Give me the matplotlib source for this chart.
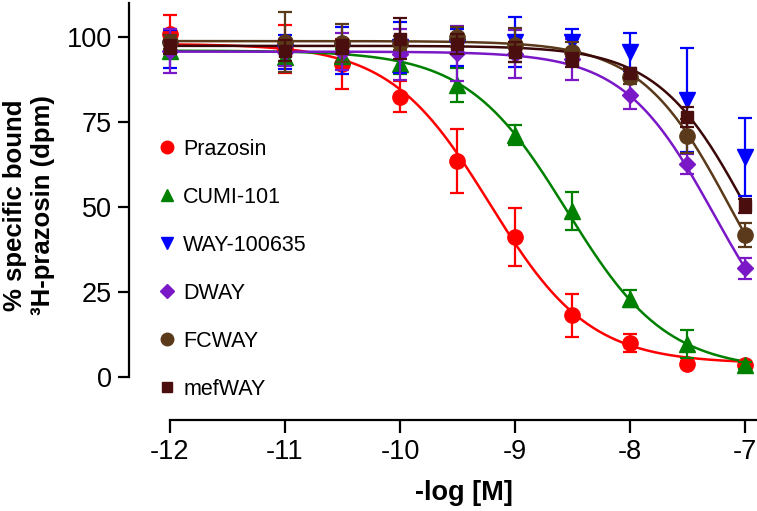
import numpy as np
import matplotlib
matplotlib.use("Agg")
import matplotlib.pyplot as plt
from matplotlib.lines import Line2D

plt.rcParams['font.family'] = ['Liberation Sans', 'DejaVu Sans']

# ---- data ----
log_conc = [-12, -11, -10.5, -10, -9.5, -9, -8.5, -8, -7.5, -7]

prazosin = [101.0, 96.5, 92.0, 82.5, 63.5, 41.2, 18.2, 10.0, 3.8, 3.5]
prazosin_err = [5.5, 7.0, 7.3, 4.5, 9.4, 8.5, 6.3, 2.6, 0.8, 0.8]

cumi = [96.0, 94.0, 94.5, 92.0, 86.0, 71.2, 48.8, 23.0, 9.8, 3.5]
cumi_err = [2.0, 2.0, 2.0, 3.0, 5.0, 3.0, 5.5, 2.5, 4.2, 1.0]

way = [96.5, 95.5, 96.0, 97.0, 97.0, 98.5, 98.5, 95.5, 81.5, 64.7]
way_err = [5.5, 5.0, 7.0, 7.5, 5.5, 7.4, 4.0, 5.6, 15.3, 11.5]

dway = [96.0, 95.5, 95.7, 95.0, 95.2, 95.0, 93.5, 83.0, 62.6, 32.0]
dway_err = [6.5, 4.0, 5.5, 7.5, 8.0, 7.0, 6.0, 4.3, 3.0, 3.0]

fcway = [98.5, 98.5, 98.2, 98.2, 100.0, 97.6, 95.6, 88.2, 71.0, 41.8]
fcway_err = [2.0, 8.8, 5.6, 2.0, 3.0, 5.0, 3.0, 2.0, 5.0, 3.6]

mefway = [97.0, 96.0, 97.0, 99.5, 98.0, 95.6, 93.2, 89.5, 76.5, 50.3]
mefway_err = [2.0, 3.0, 2.0, 6.0, 3.0, 3.0, 2.0, 1.5, 3.0, 2.0]

# fitted sigmoid parameters (top, bottom, logIC50, hill)
fit_prazosin = (98.0, 4.0, -9.22, 1.0)
fit_cumi = (96.0, 2.0, -8.55, 1.0)
fit_dway = (95.7, 0.0, -7.27, 1.1)
fit_fcway = (98.8, 0.0, -7.12, 1.1)
fit_mefway = (97.4, 0.0, -6.97, 1.1)

labels = ["Prazosin", "CUMI-101", "WAY-100635", "DWAY", "FCWAY", "mefWAY"]
x_ticks = [-12, -11, -10, -9, -8, -7]
y_ticks = [0, 25, 50, 75, 100]

# ---- style ----
colors = ["#ff0000", "#008000", "#0000ff", "#7a18c8", "#5a3a1a", "#4a0e0e"]
curve_colors = ["#ff0000", "#008000", None, "#7a18c8", "#5a3a1a", "#3a0808"]
markers = ["o", "^", "v", "D", "o", "s"]
msizes = [11, 11, 11, 8.5, 11, 8.5]
leg_sizes = [9, 9, 9, 7, 9, 6.5]

series = [prazosin, cumi, way, dway, fcway, mefway]
errs = [prazosin_err, cumi_err, way_err, dway_err, fcway_err, mefway_err]
fits = [fit_prazosin, fit_cumi, None, fit_dway, fit_fcway, fit_mefway]

W, H = 757, 511
fig = plt.figure(figsize=(W / 100, H / 100), dpi=100)
ax_left, ax_right, ax_top, ax_bottom = 128.6, 756.5, 3, 420
ax = fig.add_axes([ax_left / W, 1 - ax_bottom / H, (ax_right - ax_left) / W, (ax_bottom - ax_top) / H])
ax.set_xlim(-12.36, -6.9)
ax.set_ylim(-12.6, 110)

def sigmoid(x, top, bottom, logic50, hill):
    return bottom + (top - bottom) / (1 + 10 ** ((x - logic50) * hill))

xs = np.linspace(-12, -7, 300)
for i in range(6):
    if fits[i] is not None:
        ax.plot(xs, sigmoid(xs, *fits[i]), color=curve_colors[i], lw=1.8, zorder=2 + i * 0.1)

for i in range(6):
    ax.errorbar(log_conc, series[i], yerr=errs[i], fmt=markers[i], color=colors[i],
                ms=msizes[i], mec=colors[i], elinewidth=1.6, capsize=5, capthick=1.6,
                zorder=3 + i * 0.1)

# axes styling
for s in ["top", "right"]:
    ax.spines[s].set_visible(False)
ax.spines["left"].set_bounds(0, 110)
ax.spines["bottom"].set_bounds(-12, -6.9)
ax.spines["left"].set_linewidth(1.6)
ax.spines["bottom"].set_linewidth(1.6)
ax.set_xticks(x_ticks)
ax.set_xticklabels([str(t) for t in x_ticks])
ax.set_yticks(y_ticks)
ax.tick_params(axis="both", direction="out", width=1.6, labelsize=19.5, colors="black")
ax.tick_params(axis="y", length=8, pad=4)
ax.tick_params(axis="x", length=9, pad=5)

# axis titles
fig.text((170 + 757) / 2 / W, 1 - 493 / H, "-log [M]", ha="center", va="center",
         fontsize=19.5, fontweight="bold")
fig.text(29 / W, 1 - 205 / H, "% specific bound\n\u00b3H-prazosin (dpm)", ha="center", va="center",
         rotation=90, fontsize=18.5, fontweight="bold", linespacing=1.25, multialignment="center")

handles = [Line2D([], [], ls="none", marker=markers[i], color=colors[i], ms=leg_sizes[i])
           for i in range(6)]
ax.legend(handles, labels, loc="upper left", bbox_to_anchor=(158.4 / W, 1 - 139 / H),
          bbox_transform=fig.transFigure, frameon=False, fontsize=15.5, handlelength=0.8,
          handletextpad=0.35, labelspacing=1.25, borderpad=0, borderaxespad=0)

fig.savefig("out.png", dpi=100)
